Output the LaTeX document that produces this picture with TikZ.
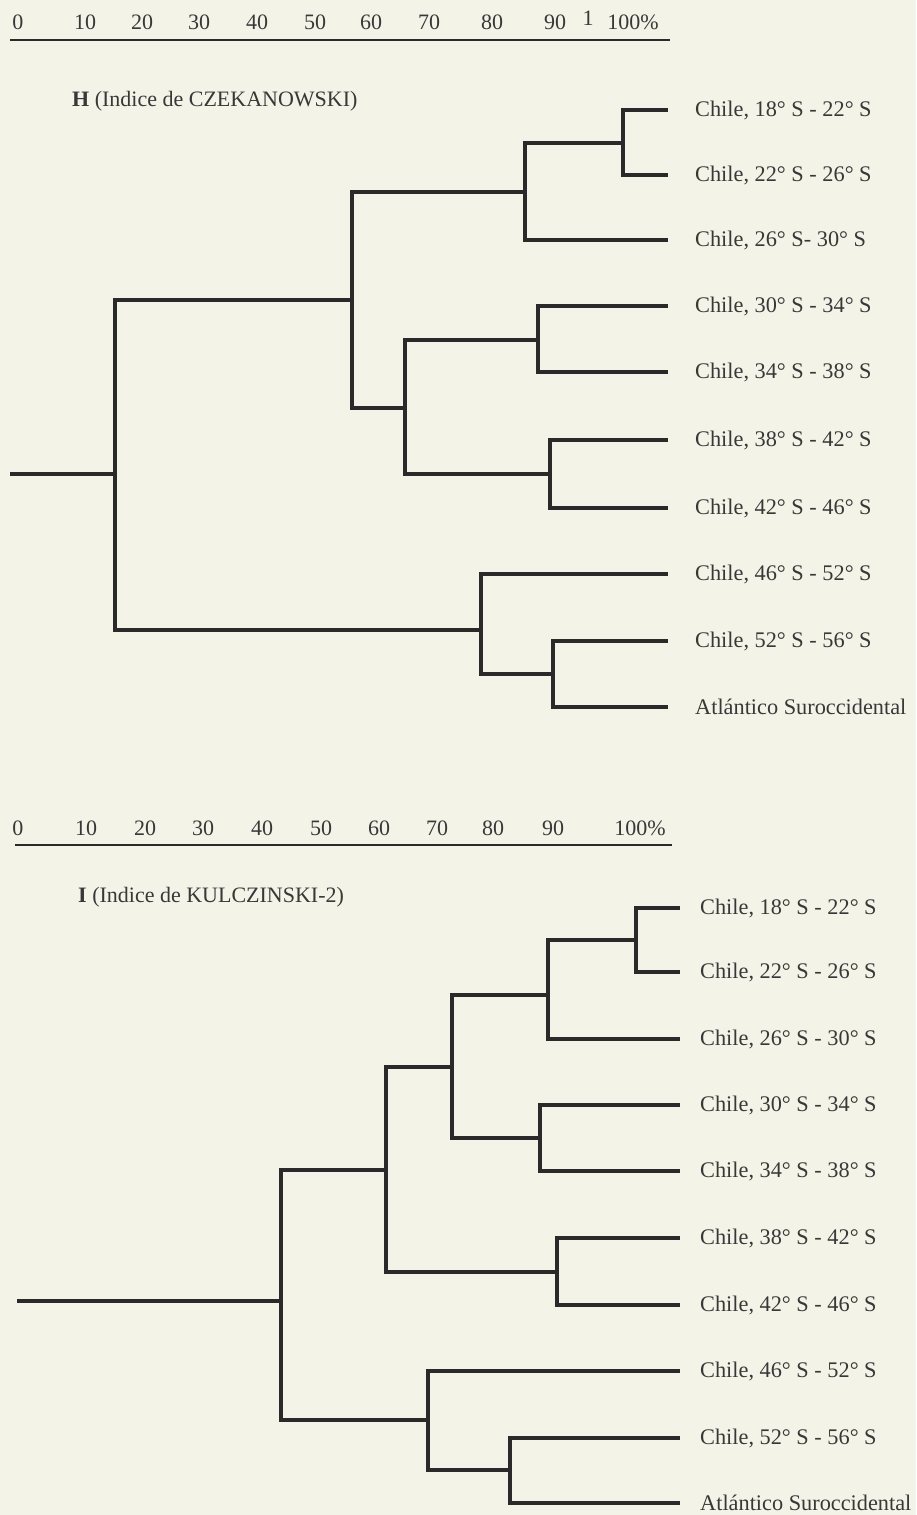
\documentclass[tikz,border=0pt]{standalone}
\usepackage{fontspec}
\setmainfont{Liberation Serif}
\definecolor{paper}{HTML}{F3F3E7}
\definecolor{ink}{HTML}{2A2A2A}
\definecolor{txt}{HTML}{383838}
\tikzset{
  branch/.style={draw=ink, line width=3.1pt},
  axisline/.style={draw=ink, line width=2.8pt},
  leaflab/.style={anchor=west, inner sep=0pt, text=txt, font=\fontsize{22.3}{24}\selectfont},
  ticklab/.style={anchor=base, inner sep=0pt, text=txt, font=\fontsize{22}{24}\selectfont},
  titlelab/.style={anchor=west, inner sep=0pt, text=txt, font=\fontsize{22}{24}\selectfont}
}
\begin{document}
\begin{tikzpicture}[x=1pt,y=-1pt]
\fill[paper] (0,0) rectangle (916,1515);
\useasboundingbox (0,0) rectangle (916,1515);

% ---------- top axis ----------
\draw[axisline] (10,40) -- (670,40);
\foreach \v/\x in {0/18,10/85,20/142,30/199,40/257,50/315,60/371,70/429,80/492,90/555}
  \node[ticklab] (ta\v) at (\x,29) {\v};
\node[ticklab] (taone) at (588,25) {1};
\node[ticklab] (ta100) at (633,29) {100\%};
\node[titlelab] (titleH) at (72,101) {\textbf{H} (Indice de CZEKANOWSKI)};

% ---------- top tree: leaves ----------
\foreach \i/\y/\t in {
  1/110/{Chile, 18° S - 22° S},
  2/175/{Chile, 22° S - 26° S},
  3/240/{Chile, 26° S- 30° S},
  4/306/{Chile, 30° S - 34° S},
  5/372/{Chile, 34° S - 38° S},
  6/440/{Chile, 38° S - 42° S},
  7/508/{Chile, 42° S - 46° S},
  8/574/{Chile, 46° S - 52° S},
  9/641/{Chile, 52° S - 56° S},
  10/707/{Atlántico Suroccidental}}{
  \coordinate (l\i) at (668,\y);
  \node[leaflab] (lab\i) at (695,\y) {\t};
}
\coordinate (j12) at (623,143);
\coordinate (jA) at (525,192);
\coordinate (j45) at (538,340);
\coordinate (j67) at (550,474);
\coordinate (jB) at (405,408);
\coordinate (jAB) at (352,300);
\coordinate (j910) at (553,674);
\coordinate (j8) at (481,630);
\coordinate (jr) at (115,474);
\coordinate (jr0) at (10,474);

\draw[branch] (l1) -| (j12) |- (l2);
\draw[branch] (j12) -| (jA) |- (l3);
\draw[branch] (l4) -| (j45) |- (l5);
\draw[branch] (l6) -| (j67) |- (l7);
\draw[branch] (j45) -| (jB) |- (j67);
\draw[branch] (jA) -| (jAB) |- (jB);
\draw[branch] (l9) -| (j910) |- (l10);
\draw[branch] (l8) -| (j8) |- (j910);
\draw[branch] (jAB) -| (jr) |- (j8);
\draw[branch] (jr0) -- (jr);

% ---------- bottom axis ----------
\draw[axisline] (15,845) -- (672,845);
\foreach \v/\x in {0/18,10/86,20/145,30/203,40/262,50/321,60/379,70/437,80/493,90/553}
  \node[ticklab] (ba\v) at (\x,835) {\v};
\node[ticklab] (ba100) at (640,835) {100\%};
\node[titlelab] (titleI) at (78,897) {\textbf{I} (Indice de KULCZINSKI-2)};

% ---------- bottom tree: leaves ----------
\foreach \i/\y/\t in {
  1/908/{Chile, 18° S - 22° S},
  2/972/{Chile, 22° S - 26° S},
  3/1039/{Chile, 26° S - 30° S},
  4/1105/{Chile, 30° S - 34° S},
  5/1171/{Chile, 34° S - 38° S},
  6/1238/{Chile, 38° S - 42° S},
  7/1305/{Chile, 42° S - 46° S},
  8/1371/{Chile, 46° S - 52° S},
  9/1438/{Chile, 52° S - 56° S},
  10/1503/{Atlántico Suroccidental}}{
  \coordinate (m\i) at (680,\y);
  \node[leaflab] (mlab\i) at (700,\y) {\t};
}
\coordinate (k12) at (636,940);
\coordinate (kA) at (548,995);
\coordinate (k45) at (540,1138);
\coordinate (kB) at (452,1067);
\coordinate (k67) at (557,1272);
\coordinate (kC) at (386,1170);
\coordinate (k910) at (510,1470);
\coordinate (k8) at (428,1420);
\coordinate (kr) at (281,1301);
\coordinate (kr0) at (17,1301);

\draw[branch] (m1) -| (k12) |- (m2);
\draw[branch] (k12) -| (kA) |- (m3);
\draw[branch] (m4) -| (k45) |- (m5);
\draw[branch] (kA) -| (kB) |- (k45);
\draw[branch] (m6) -| (k67) |- (m7);
\draw[branch] (kB) -| (kC) |- (k67);
\draw[branch] (m9) -| (k910) |- (m10);
\draw[branch] (m8) -| (k8) |- (k910);
\draw[branch] (kC) -| (kr) |- (k8);
\draw[branch] (kr0) -- (kr);
\end{tikzpicture}
\end{document}
